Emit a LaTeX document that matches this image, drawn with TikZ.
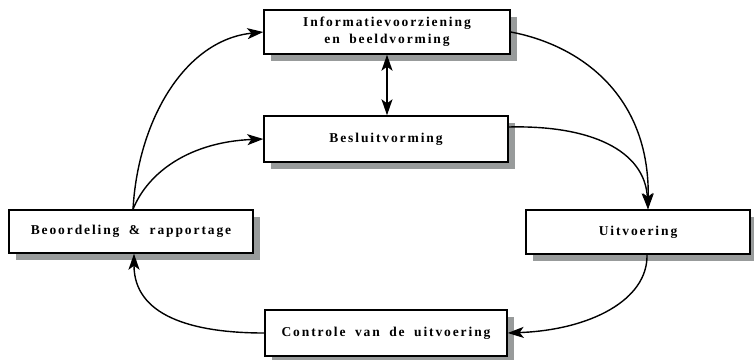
\documentclass[tikz,border=0pt]{standalone}
\usepackage{fontspec}
\setmainfont{Liberation Serif}[LetterSpace=14,WordSpace=1.8]
\usetikzlibrary{arrows.meta,shadows,calc}
\definecolor{shadowgray}{RGB}{152,155,155}
\begin{document}
\begin{tikzpicture}[x=1pt,y=-1pt,
  box/.style={draw=black, line width=1.4pt, fill=white, rectangle, align=center,
    inner sep=0pt, font=\bfseries\fontsize{13.5}{17}\selectfont,
    drop shadow={shadow xshift=7pt, shadow yshift=-7pt, fill=shadowgray, opacity=1}},
  conn/.style={line width=1.4pt, -{Stealth[length=16pt,width=11pt,inset=4pt]}},
  dconn/.style={line width=1.4pt, {Stealth[length=16pt,width=11pt,inset=4pt]}-{Stealth[length=16pt,width=11pt,inset=4pt]}}
]
\useasboundingbox (0,0) rectangle (754,359);
\node[box, minimum width=246pt, minimum height=44pt] (info) at (387,32) {Informatievoorziening\\en beeldvorming};
\node[box, minimum width=244pt, minimum height=46pt] (besl) at (386,139) {Besluitvorming};
\node[box, minimum width=244pt, minimum height=43pt] (beoo) at (131,231.5) {Beoordeling \& rapportage};
\node[box, minimum width=224pt, minimum height=44pt] (uitv) at (638,232) {Uitvoering};
\node[box, minimum width=242pt, minimum height=46pt] (ctrl) at (386,333) {Controle van de uitvoering};
\coordinate (uitvin) at ($(uitv.north)+(10,0)$);
\coordinate (uitvout) at ($(uitv.south)+(9,0)$);
\coordinate (beooout) at ($(beoo.north)+(2,0)$);
\coordinate (beooin) at ($(beoo.south)+(3,0)$);
\coordinate (beslout) at ($(besl.east)+(0,-12)$);
\draw[conn] (beooout) .. controls (138,120) and (185,40) .. (info.west);
\draw[conn] (beooout) .. controls (148,172) and (190,142) .. (besl.west);
\draw[dconn] (info.south) -- (info.south |- besl.north);
\draw[conn] (info.east) .. controls (580,45) and (650,95) .. (uitvin);
\draw[conn] (beslout) .. controls (590,125) and (645,150) .. (uitvin);
\draw[conn] (uitvout) .. controls (648,300) and (590,330) .. (ctrl.east);
\draw[conn] (ctrl.west) .. controls (190,333) and (134,315) .. (beooin);
\end{tikzpicture}
\end{document}
